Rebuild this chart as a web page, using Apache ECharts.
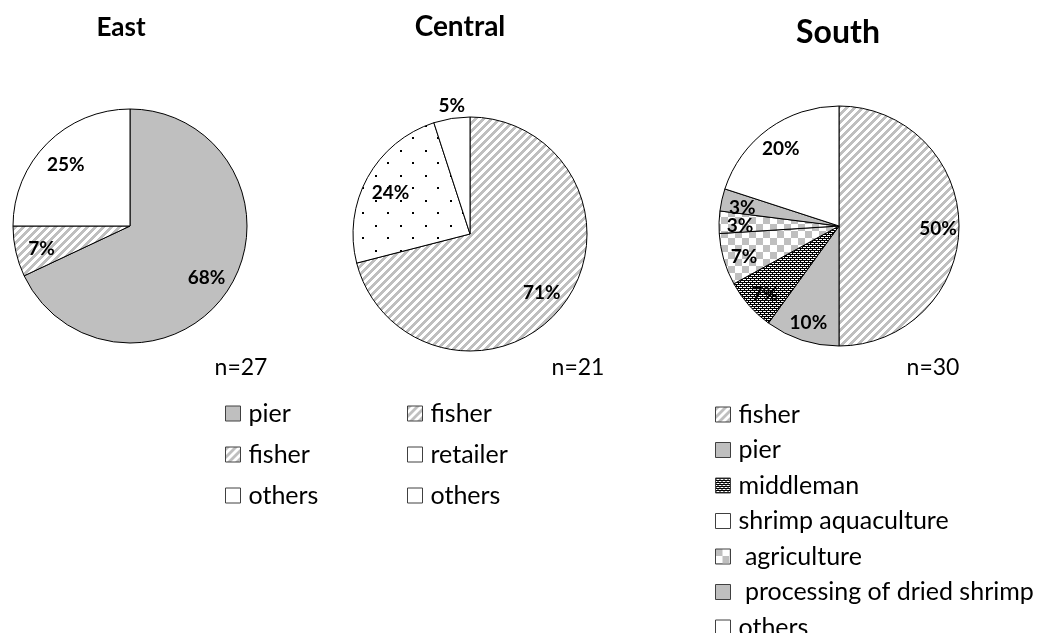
<!DOCTYPE html>
<html>
<head>
<meta charset="utf-8">
<script src="https://cdn.jsdelivr.net/npm/echarts@6/dist/echarts.min.js"></script>
<style>
  html, body { margin: 0; padding: 0; background: #fff; }
  #chart { width: 1038px; height: 633px; }
</style>
</head>
<body>
<div id="chart"></div>
<script>
// Share of respondents by occupation, per region (percent)
const eastNames = ['pier', 'fisher', 'others'];
const eastValues = [68, 7, 25];

const centralNames = ['fisher', 'retailer', 'others'];
const centralValues = [71, 24, 5];

const southNames = ['fisher', 'pier', 'middleman', 'shrimp aquaculture', 'agriculture', 'processing of dried shrimp', 'others'];
const southValues = [50, 10, 7, 7, 3, 3, 20];

const regionTitles = ['East', 'Central', 'South'];
const sampleSizes = ['n=27', 'n=21', 'n=30'];

// ---- fill patterns -------------------------------------------------------
const GRAY = '#bfbfbf';
function tile(w, h, draw) {
  const c = document.createElement('canvas');
  c.width = w; c.height = h;
  const g = c.getContext('2d');
  g.fillStyle = '#fff';
  g.fillRect(0, 0, w, h);
  draw(g);
  return { image: c, repeat: 'repeat' };
}
const SOLID_GRAY = GRAY;
const WHITE = '#ffffff';
// wide upward diagonal stripes
const STRIPE = tile(8, 8, g => {
  g.fillStyle = GRAY;
  for (let y = 0; y < 8; y++)
    for (let x = 0; x < 8; x++)
      if (((x + y) % 8) < 4) g.fillRect(x, y, 1, 1);
});
// sparse staggered dots
const DOTS = tile(25, 25, g => {
  g.fillStyle = '#000';
  g.fillRect(0, 0, 2, 2);
  g.fillRect(12, 12, 2, 2);
});
// dense black brick texture
const BRICK = tile(4, 4, g => {
  g.fillStyle = '#000';
  g.fillRect(0, 0, 4, 1);
  g.fillRect(0, 1, 1, 1);
  g.fillRect(0, 2, 4, 1);
  g.fillRect(2, 3, 1, 1);
});
// large gray/white checkerboard
const CHECKER = tile(14, 14, g => {
  g.fillStyle = GRAY;
  g.fillRect(0, 0, 7, 7);
  g.fillRect(7, 7, 7, 7);
});

const eastFills = [SOLID_GRAY, STRIPE, WHITE];
const centralFills = [STRIPE, DOTS, WHITE];
const southFills = [STRIPE, SOLID_GRAY, BRICK, CHECKER, CHECKER, SOLID_GRAY, WHITE];

const eastKeys = [SOLID_GRAY, STRIPE, WHITE];
const centralKeys = [STRIPE, WHITE, WHITE];
const southKeys = [STRIPE, SOLID_GRAY, BRICK, WHITE, CHECKER, SOLID_GRAY, WHITE];

const FONT = 'Lato, "Open Sans", sans-serif';

// ---- builders --------------------------------------------------------------
function pies(names, values, fills, center, r, inner, labelShift) {
  const slices = {
    type: 'pie',
    center: center,
    radius: [0, r],
    startAngle: 90,
    clockwise: true,
    silent: true,
    animation: false,
    avoidLabelOverlap: false,
    label: { show: false },
    labelLine: { show: false },
    itemStyle: { borderColor: '#000', borderWidth: 1 },
    data: names.map((n, i) => ({ name: n, value: values[i], itemStyle: { color: fills[i] } }))
  };
  // transparent ring that carries the percentage labels further out
  const labels = {
    type: 'pie',
    center: center,
    radius: [r * inner, r],
    startAngle: 90,
    clockwise: true,
    silent: true,
    animation: false,
    avoidLabelOverlap: false,
    itemStyle: { color: 'rgba(0,0,0,0)', borderWidth: 0 },
    label: {
      show: true,
      position: 'inside',
      formatter: p => p.value + '%',
      fontFamily: FONT,
      fontWeight: 'bold',
      fontSize: 19,
      color: '#000'
    },
    labelLine: { show: false },
    labelLayout: p => {
      const s = (labelShift && labelShift[p.dataIndex]) || { dx: 0, dy: 0 };
      return { dx: s.dx, dy: s.dy + 3 };
    },
    data: names.map((n, i) => ({ name: n, value: values[i] }))
  };
  return [slices, labels];
}

const padded = ['agriculture', 'processing of dried shrimp'];
function legend(names, keys, left, top, gap) {
  return {
    orient: 'vertical',
    left: left,
    top: top,
    height: 260,
    itemGap: gap,
    itemWidth: 15,
    itemHeight: 15,
    icon: 'rect',
    selectedMode: false,
    formatter: n => (padded.includes(n) ? ' ' + n : n),
    textStyle: { fontFamily: FONT, fontSize: 25, lineHeight: 25, color: '#000', padding: [0, 0, 0, 3] },
    data: names.map((n, i) => ({
      name: n,
      itemStyle: { color: keys[i], borderColor: '#404040', borderWidth: 1 }
    }))
  };
}

function text(str, x, y, size, bold) {
  return {
    type: 'text', x: x, y: y, silent: true,
    style: {
      text: str, align: 'center', verticalAlign: 'middle',
      font: (bold ? 'bold ' : '') + size + 'px ' + FONT, fill: '#000'
    }
  };
}

const chart = echarts.init(document.getElementById('chart'), null, { renderer: 'canvas' });
chart.setOption({
  backgroundColor: '#fff',
  animation: false,
  series: [
    ...pies(eastNames, eastValues, eastFills, [130, 226], 117, 0.5),
    ...pies(centralNames, centralValues, centralFills, [470, 234], 117, 0.5, { 2: { dx: -4, dy: -41 } }),
    ...pies(southNames, southValues, southFills, [839, 226], 120, 0.6)
  ],
  legend: [
    legend(eastNames, eastKeys, 220, 396, 16),
    legend(centralNames, centralKeys, 402, 396, 16),
    legend(southNames, southKeys, 710, 397, 10.5)
  ],
  graphic: [
    text(regionTitles[0], 121, 28, 26, true),
    text(regionTitles[1], 460, 27, 28, true),
    text(regionTitles[2], 838, 33, 32, true),
    text(sampleSizes[0], 241, 368, 23, false),
    text(sampleSizes[1], 578, 368, 23, false),
    text(sampleSizes[2], 933, 368, 23, false)
  ]
});
</script>
</body>
</html>
